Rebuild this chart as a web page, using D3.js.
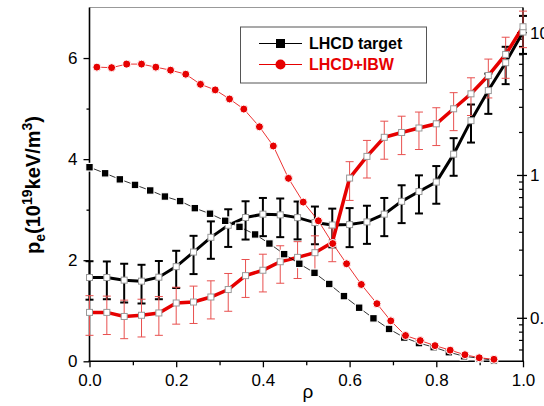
<!DOCTYPE html>
<html>
<head>
<meta charset="utf-8">
<script src="https://cdn.jsdelivr.net/npm/d3@7"></script>
<style>
  body { margin: 0; background: #fff; }
  svg { display: block; }
  text { font-family: "Liberation Sans", Arial, Helvetica, sans-serif; }
</style>
</head>
<body>
<svg id="chart" width="544" height="406"></svg>
<script>
// Pressure profiles, left axis (linear, 10^19 keV/m^3)
const rhoTarget = [0.000, 0.036, 0.070, 0.105, 0.140, 0.174, 0.209, 0.243, 0.278, 0.313, 0.346, 0.382, 0.415, 0.449,
                   0.484, 0.519, 0.553, 0.587, 0.622, 0.655, 0.691, 0.726, 0.760, 0.794, 0.829, 0.864, 0.899, 0.933];
const peTarget  = [3.84, 3.72, 3.60, 3.49, 3.38, 3.26, 3.17, 3.03, 2.92, 2.78, 2.66, 2.51, 2.33, 2.12,
                   1.93, 1.75, 1.53, 1.29, 1.06, 0.85, 0.64, 0.47, 0.36, 0.28, 0.18, 0.10, 0.06, 0.02];
const rhoIBW    = [0.017, 0.051, 0.086, 0.120, 0.153, 0.187, 0.222, 0.256, 0.290, 0.323, 0.356, 0.392, 0.424, 0.459,
                   0.493, 0.528, 0.561, 0.593, 0.627, 0.663, 0.695, 0.729, 0.763, 0.797, 0.832, 0.866, 0.899, 0.933];
const peIBW     = [5.82, 5.81, 5.88, 5.88, 5.82, 5.76, 5.68, 5.48, 5.37, 5.19, 4.99, 4.64, 4.26, 3.62,
                   3.15, 2.78, 2.33, 1.93, 1.52, 1.14, 0.80, 0.51, 0.41, 0.31, 0.22, 0.13, 0.07, 0.04];

// Profiles with error bars, right axis (log)
const rhoProfile = [0.00, 0.04, 0.08, 0.12, 0.16, 0.20, 0.24, 0.28, 0.32, 0.36, 0.40, 0.44, 0.48,
                    0.52, 0.56, 0.60, 0.64, 0.68, 0.72, 0.76, 0.80, 0.84, 0.88, 0.92, 0.96, 1.00];
const profTarget = [0.193, 0.193, 0.185, 0.182, 0.194, 0.230, 0.291, 0.369, 0.448, 0.508, 0.536, 0.530, 0.507,
                    0.468, 0.450, 0.453, 0.473, 0.536, 0.659, 0.772, 0.899, 1.41, 2.42, 3.93, 6.16, 10.1];
const errTarget  = [0.058, 0.057, 0.056, 0.055, 0.058, 0.067, 0.087, 0.108, 0.132, 0.152, 0.160, 0.160, 0.150,
                    0.138, 0.136, 0.138, 0.141, 0.160, 0.195, 0.230, 0.265, 0.415, 0.72, 1.23, 1.80, 3.00];
const profIBW    = [0.110, 0.110, 0.103, 0.105, 0.109, 0.128, 0.130, 0.141, 0.159, 0.199, 0.217, 0.249, 0.267,
                    0.288, 0.339, 0.959, 1.36, 1.85, 2.00, 2.15, 2.30, 2.93, 3.73, 5.01, 7.04, 11.0];
const errIBW     = [0.034, 0.033, 0.031, 0.031, 0.033, 0.037, 0.038, 0.042, 0.047, 0.059, 0.064, 0.073, 0.077,
                    0.090, 0.090, 0.29, 0.40, 0.55, 0.60, 0.63, 0.68, 0.87, 1.10, 1.52, 2.25, 3.15];

// Ticks
const xTicks = [0, 0.2, 0.4, 0.6, 0.8, 1.0];
const xMinor = [0.1, 0.3, 0.5, 0.7, 0.9];
const yLeftTicks = [0, 2, 4, 6];
const yLeftMinor = [1, 3, 5];
const yRightTicks = [0.1, 1, 10];
const yRightMinor = [0.06, 0.07, 0.08, 0.09, 0.2, 0.3, 0.4, 0.5, 0.6, 0.7, 0.8, 0.9, 2, 3, 4, 5, 6, 7, 8, 9];

const legendItems = [
  { label: "LHCD target", color: "#000", shape: "square" },
  { label: "LHCD+IBW", color: "#e60000", shape: "circle" }
];

const RED = "#e60000";
const RED_ERR = "#e8504f";

const svg = d3.select("#chart");
const plotL = 89.5, plotR = 523, plotT = 7.5, plotB = 361.3;

const x = d3.scaleLinear().domain([0, 1]).range([plotL, plotR]);
const yL = d3.scaleLinear().domain([0, 7]).range([plotB, plotT]);
const yR = d3.scaleLog().domain([0.05, 15]).range([plotB, plotT]);

// ---- axes ----
function styleAxis(g) {
  g.select(".domain").remove();
  g.selectAll(".tick line").attr("stroke", "#000").attr("stroke-width", 1.3);
  g.selectAll(".tick text").attr("fill", "#000").style("font-size", "17px")
    .style("font-family", '"Liberation Sans", Arial, sans-serif');
}

svg.append("g").attr("transform", `translate(${plotL},0)`)
  .call(d3.axisLeft(yL).tickValues(yLeftTicks).tickSize(6).tickPadding(6).tickFormat(d3.format("d")))
  .call(styleAxis);
svg.append("g").attr("transform", `translate(${plotL},0)`)
  .call(d3.axisLeft(yL).tickValues(yLeftMinor).tickSize(3).tickFormat(""))
  .call(styleAxis);

svg.append("g").attr("transform", `translate(0,${plotB})`)
  .call(d3.axisBottom(x).tickValues(xTicks).tickSize(6).tickPadding(7).tickFormat(d3.format(".1f")))
  .call(styleAxis);
svg.append("g").attr("transform", `translate(0,${plotB})`)
  .call(d3.axisBottom(x).tickValues(xMinor).tickSize(4).tickFormat(""))
  .call(styleAxis);

// right log axis: labels outside, ticks pointing inward
svg.append("g").attr("transform", `translate(${plotR},0)`)
  .call(d3.axisRight(yR).tickValues(yRightTicks).tickSize(0).tickPadding(7).tickFormat(d3.format("~g")))
  .call(styleAxis);
svg.append("g").selectAll("line").data(yRightMinor).join("line")
  .attr("x1", plotR - 4).attr("x2", plotR)
  .attr("y1", d => yR(d)).attr("y2", d => yR(d))
  .attr("stroke", "#000").attr("stroke-width", 1.2);
svg.append("g").selectAll("line").data(yRightTicks).join("line")
  .attr("x1", plotR - 6).attr("x2", plotR + 4)
  .attr("y1", d => yR(d)).attr("y2", d => yR(d))
  .attr("stroke", "#000").attr("stroke-width", 1.3);

// frame
svg.append("line").attr("x1", plotL).attr("x2", plotR).attr("y1", plotT).attr("y2", plotT)
  .attr("stroke", "#999").attr("stroke-width", 1);
svg.append("line").attr("x1", plotL).attr("x2", plotL).attr("y1", plotT).attr("y2", plotB)
  .attr("stroke", "#000").attr("stroke-width", 1.6);
svg.append("line").attr("x1", plotR).attr("x2", plotR).attr("y1", plotT).attr("y2", plotB)
  .attr("stroke", "#000").attr("stroke-width", 1.6);
svg.append("line").attr("x1", plotL - 1).attr("x2", plotR + 1).attr("y1", plotB).attr("y2", plotB)
  .attr("stroke", "#000").attr("stroke-width", 1.6);

// ---- profiles with error bars (right axis) ----
function errorBars(vals, errs, color, width, capW) {
  const g = svg.append("g").attr("stroke", color).attr("stroke-width", width).attr("fill", "none");
  rhoProfile.forEach((r, i) => {
    const cx = x(r), y1 = yR(vals[i] + errs[i]), y0 = yR(vals[i] - errs[i]);
    g.append("line").attr("x1", cx).attr("x2", cx).attr("y1", y1).attr("y2", y0);
    g.append("line").attr("x1", cx - capW / 2).attr("x2", cx + capW / 2).attr("y1", y1).attr("y2", y1);
    g.append("line").attr("x1", cx - capW / 2).attr("x2", cx + capW / 2).attr("y1", y0).attr("y2", y0);
  });
}
errorBars(profTarget, errTarget, "#000", 2, 8);
errorBars(profIBW, errIBW, RED_ERR, 1, 8);

const lineR = d3.line().x(d => x(d[0])).y(d => yR(d[1]));
svg.append("path").datum(rhoProfile.map((r, i) => [r, profTarget[i]]))
  .attr("d", lineR).attr("fill", "none").attr("stroke", "#000").attr("stroke-width", 3);
svg.append("path").datum(rhoProfile.map((r, i) => [r, profIBW[i]]))
  .attr("d", lineR).attr("fill", "none").attr("stroke", RED).attr("stroke-width", 3.5);

[profTarget, profIBW].forEach(vals => {
  svg.append("g").selectAll("rect").data(rhoProfile.map((r, i) => [r, vals[i]])).join("rect")
    .attr("x", d => x(d[0]) - 3).attr("y", d => yR(d[1]) - 3)
    .attr("width", 6).attr("height", 6)
    .attr("fill", "#fff").attr("stroke", "#999").attr("stroke-width", 1);
});

// ---- pressure profiles (left axis) ----
const lineL = d3.line().x(d => x(d[0])).y(d => yL(d[1]));
const tgtPts = rhoTarget.map((r, i) => [r, peTarget[i]]);
const ibwPts = rhoIBW.map((r, i) => [r, peIBW[i]]);

svg.append("path").datum(tgtPts).attr("d", lineL)
  .attr("fill", "none").attr("stroke", "#000").attr("stroke-width", 0.8);
svg.append("g").selectAll("rect").data(tgtPts).join("rect")
  .attr("x", d => x(d[0]) - 3.8).attr("y", d => yL(d[1]) - 3.8)
  .attr("width", 7.6).attr("height", 7.6)
  .attr("fill", "#000").attr("stroke", "#fff").attr("stroke-width", 1.2);

svg.append("path").datum(ibwPts).attr("d", lineL)
  .attr("fill", "none").attr("stroke", RED).attr("stroke-width", 0.8);
svg.append("g").selectAll("circle").data(ibwPts).join("circle")
  .attr("cx", d => x(d[0])).attr("cy", d => yL(d[1])).attr("r", 4)
  .attr("fill", RED).attr("stroke", "#fff").attr("stroke-width", 1);

// ---- legend ----
const leg = svg.append("g");
leg.append("rect").attr("x", 240.5).attr("y", 27).attr("width", 186).attr("height", 56)
  .attr("fill", "#fff").attr("stroke", "#555").attr("stroke-width", 1);
legendItems.forEach((it, i) => {
  const ly = 43.5 + i * 21;
  leg.append("line").attr("x1", 259).attr("x2", 302).attr("y1", ly).attr("y2", ly)
    .attr("stroke", it.color).attr("stroke-width", 1);
  if (it.shape === "square") {
    leg.append("rect").attr("x", 280.5 - 4.5).attr("y", ly - 4.5).attr("width", 9).attr("height", 9)
      .attr("fill", it.color);
  } else {
    leg.append("circle").attr("cx", 280.5).attr("cy", ly).attr("r", 5).attr("fill", it.color);
  }
  leg.append("text").attr("x", 309).attr("y", ly + 5.5)
    .attr("fill", it.color).style("font-size", "16px").style("font-weight", "bold")
    .text(it.label);
});

// ---- axis titles ----
svg.append("text").attr("x", 308).attr("y", 398).attr("text-anchor", "middle")
  .style("font-size", "19px").text("ρ");

const yt = svg.append("text")
  .attr("transform", "translate(40,185) rotate(-90)")
  .attr("text-anchor", "middle")
  .style("font-size", "20px").style("font-weight", "bold");
yt.append("tspan").text("p");
yt.append("tspan").attr("dy", 5).style("font-size", "14px").text("e");
yt.append("tspan").attr("dy", -5).text("(10");
yt.append("tspan").attr("dy", -8).style("font-size", "14px").text("19");
yt.append("tspan").attr("dy", 8).text("keV/m");
yt.append("tspan").attr("dy", -8).style("font-size", "14px").text("3");
yt.append("tspan").attr("dy", 8).text(")");
</script>
</body>
</html>
